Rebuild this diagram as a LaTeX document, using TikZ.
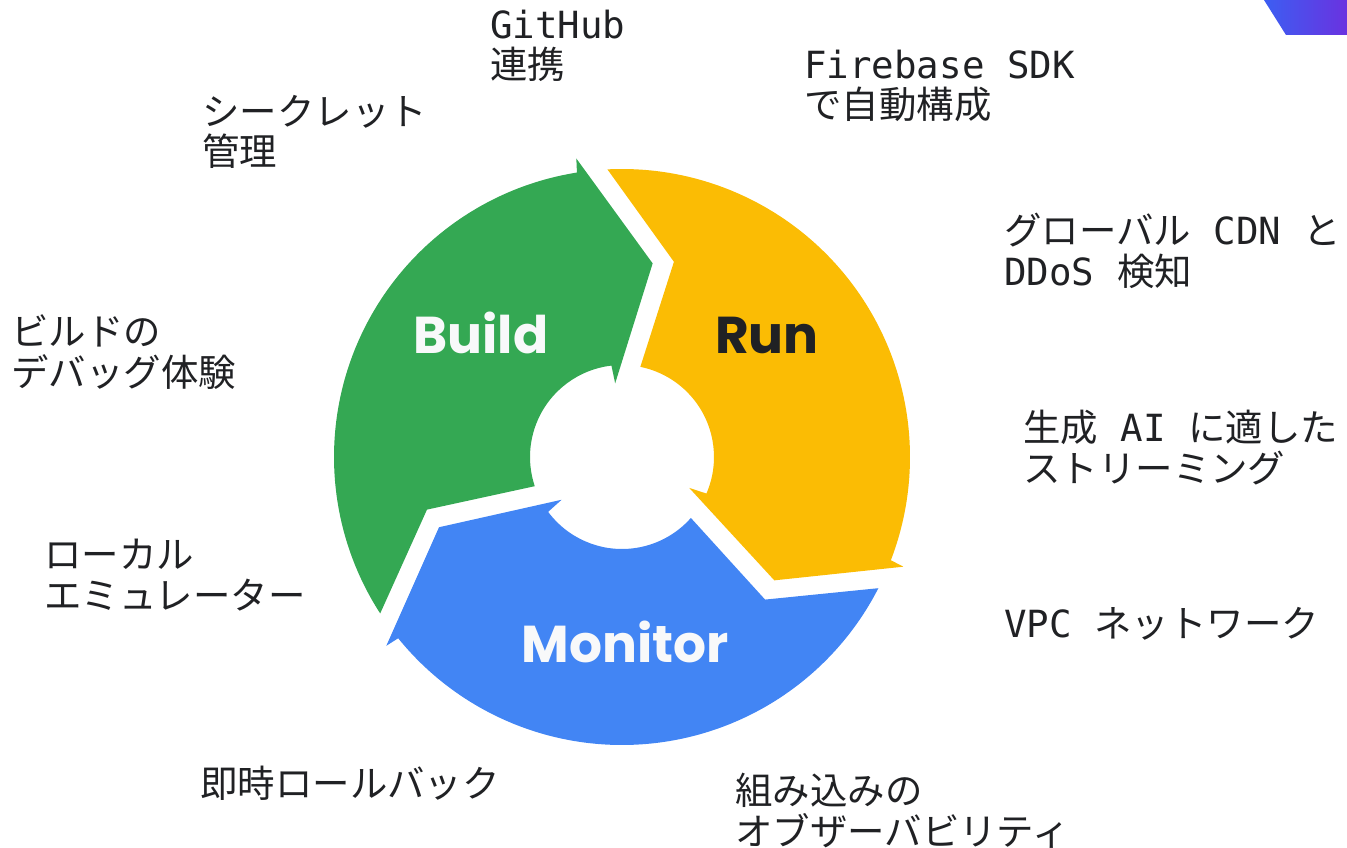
\documentclass[tikz,border=0pt]{standalone}
\usepackage{fontspec}
\usepackage{xcolor}
\usepackage{tikz}
\newfontfamily\lbljp{Noto Sans CJK JP}
\newfontfamily\lblmono{DejaVu Sans Mono}
\newfontfamily\phasefont{Poppins}
\definecolor{gbuild}{HTML}{34A853}
\definecolor{grun}{HTML}{FBBC04}
\definecolor{gmonitor}{HTML}{4285F4}
\definecolor{ink}{HTML}{202124}
\definecolor{paper}{HTML}{F8F9FA}
\definecolor{tabblue}{HTML}{3C5EF2}
\definecolor{tabviolet}{HTML}{6A32E0}

\begin{document}
\begin{tikzpicture}[x=0.02cm, y=0.02cm,
        lbl/.style={anchor=base west, inner sep=0pt, align=left, text=ink, font=\lbljp\fontsize{21.3}{22.8}\selectfont},
        phase/.style={anchor=base, inner sep=0pt, font=\phasefont\bfseries\fontsize{29.5}{29.5}\selectfont}
    ]
        \useasboundingbox (0,0) rectangle (1347,-848);
        \shade[left color=tabblue, right color=tabviolet] (1264,0) -- (1286,-35) -- (1347,-35) -- (1347,0) -- cycle;
        % three arrows of the cycle
        \begin{scope}[shift={(622,-457)}]
            \foreach \a/\col in {99/gbuild, -21/grun, -141/gmonitor}{
                \fill[\col] ({\a+113.9}:288) arc[start angle={\a+113.9}, end angle=\a, radius=288]
                    -- ({\a-0.3}:302) -- ({\a-18}:196) -- ({\a-3.7}:74) -- ({\a-2.4}:92)
                    arc[start angle={\a-2.4}, end angle={\a+99.5}, radius=92]
                    -- ({\a+96.1}:202) -- cycle;
            }
        \end{scope}
        \node[phase, text=paper] (build) at (481,-354) {Build};
        \node[phase, text=ink] (run) at (767,-354) {Run};
        \node[phase, text=paper] (monitor) at (625,-662) {Monitor};
        % features around the cycle (anchored on the last line)
        \node[lbl] (github) at (490,-78.5) {{\lblmono GitHub}\\連携};
        \node[lbl] (firebase) at (804,-119) {{\lblmono Firebase SDK}\\で自動構成};
        \node[lbl] (secret) at (202,-166) {シークレット\\管理};
        \node[lbl] (cdn) at (1004,-285) {グローバル{\lblmono\ CDN\ }と\\{\lblmono DDoS\ }検知};
        \node[lbl] (debug) at (11,-386) {ビルドの\\デバッグ体験};
        \node[lbl] (stream) at (1023,-482) {生成{\lblmono\ AI\ }に適した\\ストリーミング};
        \node[lbl] (emu) at (44,-609) {ローカル\\エミュレーター};
        \node[lbl] (vpc) at (1004,-637) {{\lblmono VPC\ }ネットワーク};
        \node[lbl] (rollback) at (200,-797) {即時ロールバック};
        \node[lbl] (observe) at (735,-845) {組み込みの\\オブザーバビリティ};
    \end{tikzpicture}
\end{document}
